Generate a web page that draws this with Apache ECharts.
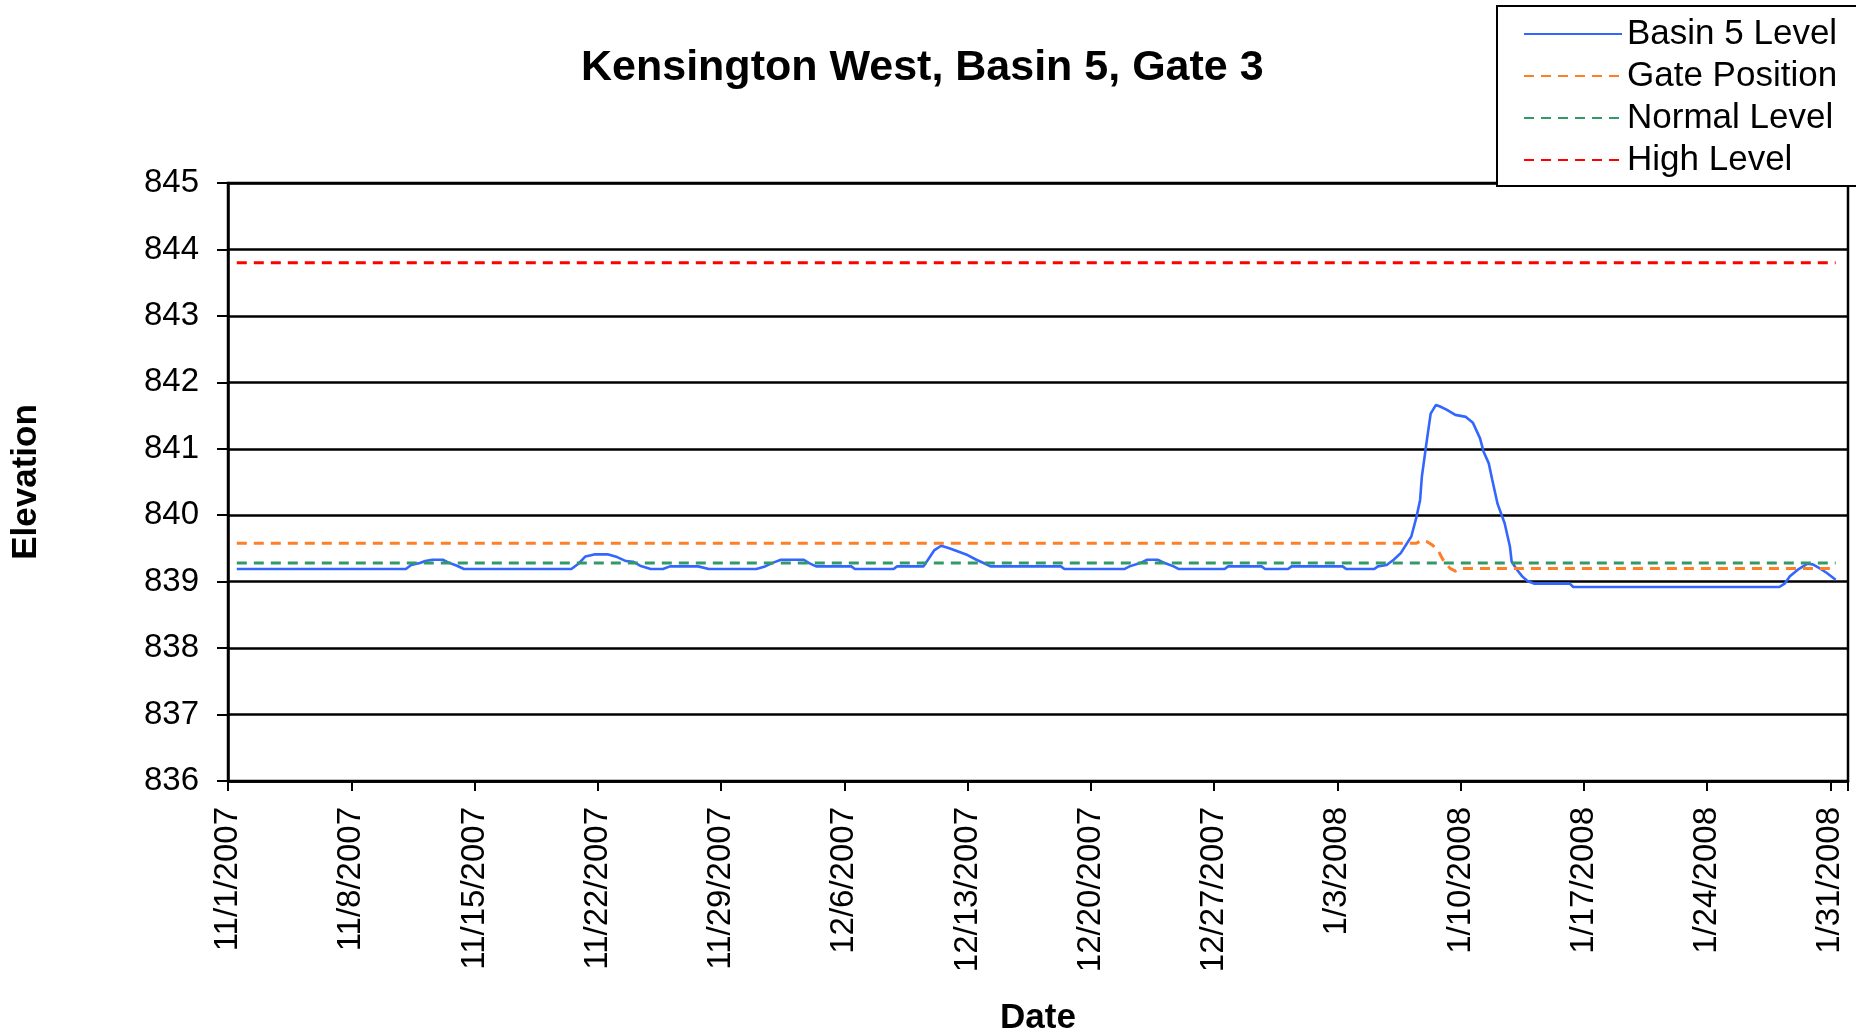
<!DOCTYPE html>
<html>
<head>
<meta charset="utf-8">
<script src="https://cdn.jsdelivr.net/npm/echarts@6/dist/echarts.min.js"></script>
<style>
html,body{margin:0;padding:0;background:#fff;}
#chart{width:1856px;height:1036px;}
</style>
</head>
<body>
<div id="chart"></div>
<script>
// x values are days since 11/1/2007 00:00
const tickLabels = ['11/1/2007','11/8/2007','11/15/2007','11/22/2007','11/29/2007','12/6/2007','12/13/2007','12/20/2007','12/27/2007','1/3/2008','1/10/2008','1/17/2008','1/24/2008','1/31/2008'];
const yTicks = [836, 837, 838, 839, 840, 841, 842, 843, 844, 845];

const basinDays = [0.5,10.1,10.4,10.9,11.2,11.6,12.2,12.5,13.0,13.4,19.5,19.9,20.3,20.8,21.6,22.1,22.6,23.0,23.4,24.0,24.7,25.1,26.7,27.3,30.0,30.5,31.0,31.4,32.7,33.0,33.4,35.4,35.6,37.8,38.0,39.5,39.8,40.1,40.5,41.0,41.5,42.0,42.5,43.0,43.3,47.3,47.5,50.9,51.2,51.8,52.2,52.8,53.2,53.7,54.0,56.6,56.8,58.7,58.9,60.2,60.4,63.3,63.5,65.1,65.3,65.8,66.2,66.6,67.2,67.5,67.7,67.8,68.1,68.3,68.6,68.8,69.2,69.7,70.3,70.7,71.1,71.3,71.6,71.8,72.1,72.5,72.8,72.9,73.2,73.5,73.8,74.2,76.2,76.4,88.1,88.4,88.7,89.2,89.7,90.0,90.4,90.8,91.3];
const basinLevel = [839.19,839.19,839.25,839.28,839.31,839.33,839.33,839.29,839.24,839.19,839.19,839.27,839.38,839.41,839.41,839.37,839.31,839.30,839.24,839.19,839.19,839.23,839.23,839.19,839.19,839.23,839.29,839.33,839.33,839.28,839.23,839.23,839.19,839.19,839.23,839.23,839.35,839.47,839.54,839.50,839.45,839.40,839.33,839.27,839.23,839.23,839.19,839.19,839.23,839.28,839.33,839.33,839.28,839.23,839.19,839.19,839.23,839.23,839.19,839.19,839.23,839.23,839.19,839.19,839.23,839.25,839.33,839.43,839.68,839.98,840.23,840.58,841.16,841.53,841.66,841.64,841.59,841.51,841.48,841.39,841.16,840.96,840.78,840.53,840.17,839.88,839.53,839.30,839.18,839.08,839.01,838.97,838.97,838.92,838.92,838.97,839.08,839.19,839.27,839.26,839.20,839.13,839.03];

const gateDays = [0.5,67.5,67.8,68.1,68.4,68.7,69.0,69.4,69.7,70.0,91.3];
const gatePosition = [839.58,839.58,839.62,839.60,839.55,839.48,839.33,839.20,839.16,839.20,839.20];

const normalDays = [0.5, 91.3];
const normalLevel = [839.28, 839.28];

const highDays = [0.5, 91.3];
const highLevel = [843.8, 843.8];

const zip = (xs, ys) => xs.map((x, i) => [x, ys[i]]);
const FONT = '"Liberation Sans", Arial, sans-serif';

const chart = echarts.init(document.getElementById('chart'));
chart.setOption({
  animation: false,
  backgroundColor: '#fff',
  title: {
    text: 'Kensington West, Basin 5, Gate 3',
    left: 576,
    top: 42,
    textStyle: { fontFamily: FONT, fontSize: 43, fontWeight: 'bold', color: '#000' }
  },
  legend: {
    orient: 'vertical',
    left: 1497,
    top: 6,
    padding: [10, 20, 8, 26],
    borderColor: '#000',
    borderWidth: 2,
    backgroundColor: '#fff',
    itemWidth: 98,
    itemHeight: 14,
    itemGap: 6,
    itemStyle: { opacity: 0 },
    textStyle: { fontFamily: FONT, fontSize: 35, color: '#000', lineHeight: 36 },
    data: ['Basin 5 Level', 'Gate Position', 'Normal Level', 'High Level']
  },
  grid: {
    left: 228, top: 183, right: 8, bottom: 255,
    containLabel: false,
    outerBoundsMode: 'none',
    show: true, borderColor: '#000', borderWidth: 2.5, backgroundColor: 'transparent'
  },
  xAxis: {
    type: 'value',
    min: 0, max: 92, interval: 7,
    name: 'Date',
    nameLocation: 'middle',
    nameGap: 220,
    nameTextStyle: { fontFamily: FONT, fontSize: 35, fontWeight: 'bold', color: '#000' },
    axisLine: { onZero: false, lineStyle: { color: '#000', width: 2.5 } },
    axisTick: { show: true, length: 10, lineStyle: { color: '#000', width: 2 } },
    splitLine: { show: false },
    axisLabel: {
      rotate: 90, margin: 26,
      fontFamily: FONT, fontSize: 33, color: '#000',
      formatter: v => {
        const i = Math.round(v / 7);
        return (Math.abs(v - i * 7) < 1e-6 && tickLabels[i]) || '';
      }
    }
  },
  yAxis: {
    type: 'value',
    min: yTicks[0], max: yTicks[yTicks.length - 1], interval: 1,
    name: 'Elevation',
    nameLocation: 'middle',
    nameGap: 184,
    nameTextStyle: { fontFamily: FONT, fontSize: 35, fontWeight: 'bold', color: '#000' },
    axisLine: { show: true, lineStyle: { color: '#000', width: 2.5 } },
    axisTick: { show: true, length: 11, lineStyle: { color: '#000', width: 2 } },
    splitLine: { show: true, lineStyle: { color: '#000', width: 2.5 } },
    axisLabel: { margin: 29, fontFamily: FONT, fontSize: 33, color: '#000' }
  },
  series: [
    { name: 'Basin 5 Level', type: 'line', symbol: 'none', data: zip(basinDays, basinLevel),
      lineStyle: { color: '#3366ff', width: 2.6 }, itemStyle: { color: '#3366ff' } },
    { name: 'Gate Position', type: 'line', symbol: 'none', data: zip(gateDays, gatePosition),
      lineStyle: { color: '#ff7f27', width: 3, type: [10, 7] }, itemStyle: { color: '#ff7f27' } },
    { name: 'Normal Level', type: 'line', symbol: 'none', data: zip(normalDays, normalLevel),
      lineStyle: { color: '#339966', width: 3, type: [10, 7] }, itemStyle: { color: '#339966' } },
    { name: 'High Level', type: 'line', symbol: 'none', data: zip(highDays, highLevel),
      lineStyle: { color: '#ff0000', width: 3, type: [10, 7] }, itemStyle: { color: '#ff0000' } }
  ]
});
</script>
</body>
</html>
